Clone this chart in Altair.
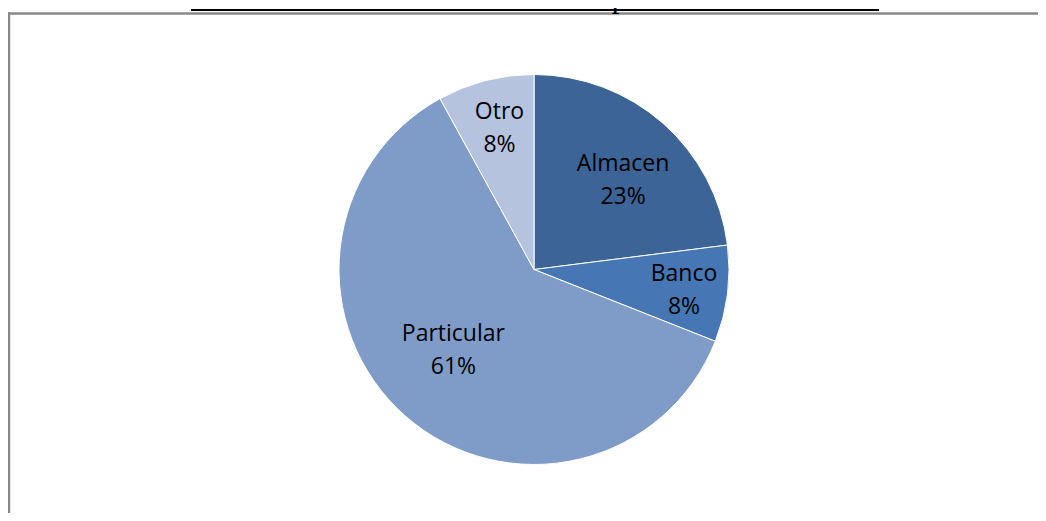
import altair as alt
import pandas as pd

# ---- data ----
categories = ["Almacen", "Banco", "Particular", "Otro"]
percents = [23, 8, 61, 8]
slice_order = [1, 2, 3, 4]
title_text = "Forma de financiación de la compra de la motocicleta"

# ---- styling ----
colors = ["#3C6496", "#4677B4", "#7F9CC8", "#B5C3DF"]
# label placement (radius in px, angular nudge in degrees) per slice
label_radius = {"Almacen": 126, "Banco": 151.5, "Particular": 114, "Otro": 145.6}
label_nudge = {"Almacen": 3.6, "Banco": 0.8, "Particular": 3.6, "Otro": 0.7}

W, H = 1030, 505
CX, CY = 526, 261.5
R = 195

pie_df = pd.DataFrame({
    "category": categories,
    "value": percents,
    "order": slice_order,
})
pie_df["label"] = [f"{c}\n{v}%" for c, v in zip(categories, percents)]
pie_df["lr"] = [label_radius[c] for c in categories]
pie_df["nudge"] = [label_nudge[c] for c in categories]

base = alt.Chart(pie_df)

pie = base.mark_arc(outerRadius=R, stroke="white", strokeWidth=1).encode(
    theta=alt.Theta("value:Q", stack=True),
    order=alt.Order("order:Q", sort="ascending"),
    color=alt.Color("category:N",
                    scale=alt.Scale(domain=categories, range=colors),
                    legend=None),
    x=alt.value(CX),
    y=alt.value(CY),
)

labels = base.transform_joinaggregate(
    total="sum(value)"
).transform_window(
    cum="sum(value)", sort=[alt.SortField("order", order="ascending")],
    frame=[None, 0]
).transform_calculate(
    mid="2*PI*(datum.cum - datum.value/2)/datum.total + datum.nudge*PI/180"
).mark_text(
    font="Open Sans", fontSize=23, color="black",
    align="center", baseline="middle", lineBreak="\n", lineHeight=33,
    dy=-16.5,
).encode(
    theta=alt.Theta("mid:Q", scale=None, stack=False),
    radius=alt.Radius("lr:Q", scale=None),
    text="label:N",
    x=alt.value(CX),
    y=alt.value(CY),
)

one = pd.DataFrame({"t": [title_text]})

title = alt.Chart(one).mark_text(
    font="Liberation Serif", fontSize=32, color="black",
    align="center", baseline="alphabetic",
).encode(text="t:N", x=alt.value(527), y=alt.value(-1))

underline = alt.Chart(one).mark_rule(color="black", strokeWidth=2).encode(
    x=alt.value(183), x2=alt.value(871), y=alt.value(2)
)

border_left = alt.Chart(one).mark_rule(color="#888888", strokeWidth=2.4).encode(
    x=alt.value(1), y=alt.value(4.3), y2=alt.value(H + 10)
)
border_top = alt.Chart(one).mark_rule(color="#888888", strokeWidth=2.4).encode(
    x=alt.value(0), x2=alt.value(W + 10), y=alt.value(5.5)
)

chart = alt.layer(pie, labels, border_left, border_top, underline, title).properties(
    width=W, height=H,
    autosize=alt.AutoSizeParams(type="none"),
    padding=0,
).configure_view(stroke="transparent", strokeWidth=0)

chart.save("out.html", embed_options={"renderer": "svg", "actions": False})
